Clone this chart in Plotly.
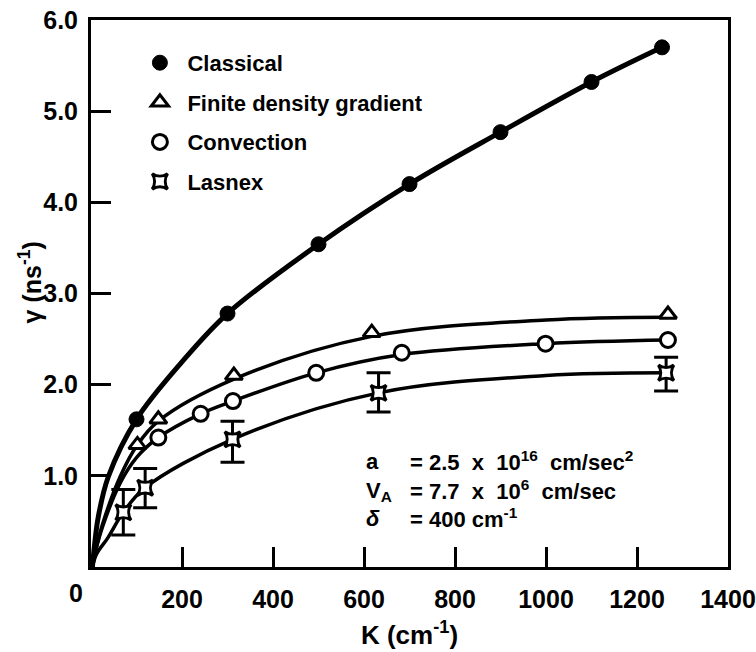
import plotly.graph_objects as go

# ---- data ----
classical_k = [100, 300, 500, 700, 900, 1100, 1255]
classical_g = [1.62, 2.78, 3.54, 4.20, 4.77, 5.32, 5.70]

finite_k = [102, 148, 314, 617, 1268]
finite_g = [1.34, 1.62, 2.10, 2.57, 2.77]

convection_k = [148, 241, 312, 495, 683, 999, 1268]
convection_g = [1.42, 1.68, 1.82, 2.13, 2.35, 2.45, 2.49]

lasnex_k = [71, 119, 311, 632, 1264]
lasnex_g = [0.60, 0.87, 1.40, 1.91, 2.13]
lasnex_err_plus = [0.25, 0.21, 0.20, 0.22, 0.17]
lasnex_err_minus = [0.25, 0.22, 0.25, 0.21, 0.20]

# fitted curves
classical_curve_k = [3, 8, 16, 38, 100, 200, 300, 500, 700, 900, 1100, 1255]
classical_curve_g = [0.0, 0.25, 0.55, 0.99, 1.62, 2.25, 2.78, 3.54, 4.20, 4.77, 5.32, 5.70]

finite_curve_k = [3, 10, 26, 64, 102, 148, 314, 617, 1000, 1268]
finite_curve_g = [0.0, 0.18, 0.48, 0.99, 1.34, 1.60, 2.06, 2.53, 2.71, 2.74]

convection_curve_k = [3, 10, 26, 64, 100, 148, 241, 312, 495, 683, 999, 1268]
convection_curve_g = [0.0, 0.17, 0.45, 0.92, 1.20, 1.42, 1.68, 1.82, 2.13, 2.33, 2.45, 2.49]

lasnex_curve_k = [3, 12, 37, 71, 119, 311, 632, 1000, 1264]
lasnex_curve_g = [0.0, 0.14, 0.32, 0.60, 0.87, 1.40, 1.91, 2.10, 2.13]

x_ticks = [200, 400, 600, 800, 1000, 1200, 1400]
y_ticks = [1, 2, 3, 4, 5, 6]
y_ticktext = ["1.0", "2.0", "3.0", "4.0", "5.0", "6.0"]

FONT = "Liberation Sans"
BLACK = "#000000"

fig = go.Figure()

curves = [
    (classical_curve_k, classical_curve_g, 5),
    (finite_curve_k, finite_curve_g, 3.5),
    (convection_curve_k, convection_curve_g, 3.5),
    (lasnex_curve_k, lasnex_curve_g, 3.5),
]
for ck, cg, w in curves:
    fig.add_trace(go.Scatter(x=ck, y=cg, mode="lines", line=dict(color=BLACK, width=w, shape="spline", smoothing=1.0),
                             showlegend=False, hoverinfo="skip"))

fig.add_trace(go.Scatter(x=classical_k, y=classical_g, mode="markers", name="Classical", legendgroup="a",
                         marker=dict(symbol="circle", size=15, color=BLACK, line=dict(color=BLACK, width=1))))
fig.add_trace(go.Scatter(x=finite_k, y=finite_g, mode="markers", name="Finite density gradient", legendgroup="b",
                         marker=dict(symbol="triangle-up", size=15, color="white", line=dict(color=BLACK, width=3))))
fig.add_trace(go.Scatter(x=convection_k, y=convection_g, mode="markers", name="Convection", legendgroup="c",
                         marker=dict(symbol="circle", size=15, color="white", line=dict(color=BLACK, width=3))))
fig.add_trace(go.Scatter(x=lasnex_k, y=lasnex_g, mode="markers", name="Lasnex", legendgroup="d",
                         error_y=dict(type="data", symmetric=False, array=lasnex_err_plus, arrayminus=lasnex_err_minus,
                                      color=BLACK, thickness=3, width=12),
                         marker=dict(symbol="star-square", size=14, color="white", line=dict(color=BLACK, width=3))))

axis_common = dict(showline=True, linecolor=BLACK, linewidth=3, mirror=True, ticks="inside",
                   ticklen=20, tickwidth=3, tickcolor=BLACK, showgrid=False, zeroline=False, automargin=False,
                   tickfont=dict(family=FONT, size=25, color=BLACK, weight="bold"))

fig.update_xaxes(range=[0, 1400], tickvals=x_ticks, ticklabelstandoff=8,
                 title=dict(text="K (cm<sup>-1</sup>)", font=dict(family=FONT, size=26, color=BLACK, weight="bold"),
                            standoff=14),
                 **axis_common)
fig.update_yaxes(range=[0, 6], tickvals=y_ticks, ticktext=y_ticktext, ticklabelstandoff=5,
                 **axis_common)

fig.add_annotation(x=-0.096, y=0.52, xref="paper", yref="paper", text="γ (ns<sup>-1</sup>)", textangle=-90,
                   showarrow=False, xanchor="center", yanchor="middle",
                   font=dict(family=FONT, size=25, color=BLACK, weight="bold"))

fig.add_annotation(x=0, y=0, xref="x", yref="y", text="0", showarrow=False, xanchor="right", yanchor="top",
                   xshift=-6, yshift=-10, font=dict(family=FONT, size=25, color=BLACK, weight="bold"))

ann_font = dict(family=FONT, size=22, color=BLACK, weight="bold")
left_labels = ["a", "V<sub>A</sub>", "<i>δ</i>"]
right_labels = ["= 2.5  x  10<sup>16</sup>  cm/sec<sup>2</sup>", "= 7.7  x  10<sup>6</sup>  cm/sec", "= 400 cm<sup>-1</sup>"]
fig.add_annotation(x=600, y=0.85, xref="x", yref="y", text="<br>".join(left_labels), showarrow=False,
                   xanchor="left", yanchor="middle", align="left", font=ann_font)
fig.add_annotation(x=697, y=0.85, xref="x", yref="y", text="<br>".join(right_labels), showarrow=False,
                   xanchor="left", yanchor="middle", align="left", font=ann_font)

fig.update_layout(
    width=756, height=652,
    margin=dict(l=91, r=28, t=20, b=85),
    paper_bgcolor="white", plot_bgcolor="white",
    legend=dict(x=0.065, y=0.96, xanchor="left", yanchor="top", bgcolor="rgba(0,0,0,0)",
                font=dict(family=FONT, size=22, color=BLACK, weight="bold"), tracegroupgap=8, itemwidth=45),
)

fig.write_html("out.html")
